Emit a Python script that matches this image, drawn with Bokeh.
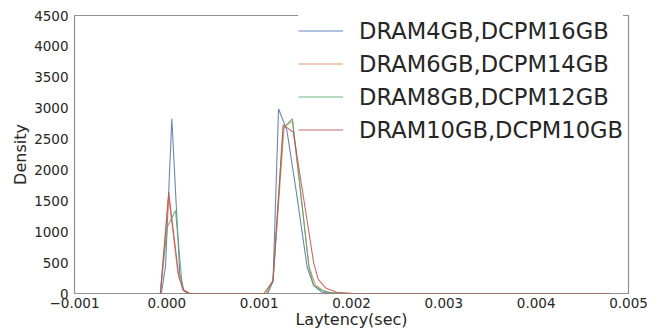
from bokeh.plotting import figure
from bokeh.models import FixedTicker, Legend, LegendItem
from bokeh.embed import file_html
from bokeh.resources import INLINE

series_names = ["DRAM4GB,DCPM16GB", "DRAM6GB,DCPM14GB", "DRAM8GB,DCPM12GB", "DRAM10GB,DCPM10GB"]
series_colors = ["#4C72B0", "#DD8452", "#55A868", "#C44E52"]

blue_x = [-0.00006, -0.000014, 0.000054, 0.00014, 0.000185, 0.00024, 0.0004, 0.0010, 0.00109, 0.00115, 0.00121, 0.00130, 0.00140, 0.00152, 0.00159, 0.00168, 0.0018, 0.0025, 0.0048]
blue_y = [0, 440, 2830, 320, 50, 5, 0, 0, 0, 195, 2990, 2640, 1670, 425, 130, 20, 3, 0, 0]

orange_x = [-0.00007, 0.00002, 0.00012, 0.00018, 0.00025, 0.0004, 0.0010, 0.00107, 0.00115, 0.00127, 0.00136, 0.00154, 0.00161, 0.00170, 0.0018, 0.0025, 0.0048]
orange_y = [0, 1560, 330, 55, 3, 0, 0, 0, 210, 2700, 2790, 430, 140, 35, 5, 0, 0]

green_x = [-0.00007, 0.000004, 0.000094, 0.00017, 0.00022, 0.0004, 0.0010, 0.00109, 0.00115, 0.00126, 0.00136, 0.00154, 0.00159, 0.00167, 0.00176, 0.0019, 0.0025, 0.0048]
green_y = [0, 1075, 1345, 75, 5, 0, 0, 0, 210, 2670, 2830, 425, 130, 60, 20, 3, 0, 0]

red_x = [-0.00007, 0.00002, 0.00013, 0.000178, 0.00024, 0.0004, 0.0010, 0.00105, 0.00115, 0.00126, 0.00137, 0.00159, 0.00164, 0.00172, 0.00184, 0.0020, 0.0025, 0.0048]
red_y = [0, 1640, 275, 50, 3, 0, 0, 0, 200, 2730, 2610, 500, 230, 90, 20, 5, 0, 0]

x_ticks = [-0.001, 0.0, 0.001, 0.002, 0.003, 0.004, 0.005]
x_tick_labels = ["\u22120.001", "0.000", "0.001", "0.002", "0.003", "0.004", "0.005"]
y_ticks = [0, 500, 1000, 1500, 2000, 2500, 3000, 3500, 4000, 4500]

p = figure(width=664, height=331, output_backend="svg", toolbar_location=None,
           x_range=(-0.001, 0.005), y_range=(0, 4500),
           min_border_left=74, min_border_right=36, min_border_top=15, min_border_bottom=38)
p.background_fill_color = "white"
p.border_fill_color = "white"
p.outline_line_color = "#909090"
p.outline_line_width = 1.2
p.xgrid.visible = False
p.ygrid.visible = False

xs = [blue_x, orange_x, green_x, red_x]
ys = [blue_y, orange_y, green_y, red_y]
renderers = []
for x, y, c in zip(xs, ys, series_colors):
    r = p.line(x, y, line_color=c, line_width=1.1, line_alpha=0.85)
    renderers.append(r)

for ax in (p.xaxis[0], p.yaxis[0]):
    ax.axis_line_color = None
    ax.major_tick_line_color = None
    ax.minor_tick_line_color = None
    ax.major_tick_out = 0
    ax.major_tick_in = 0
    ax.minor_tick_out = 0
    ax.minor_tick_in = 0
    ax.major_label_text_font = "DejaVu Sans"
    ax.major_label_text_font_size = "13.5px"
    ax.major_label_text_color = "#262626"
    ax.axis_label_text_font = "DejaVu Sans"
    ax.axis_label_text_font_size = "16px"
    ax.axis_label_text_font_style = "normal"
    ax.axis_label_text_color = "#262626"

p.xaxis.major_label_standoff = 4
p.yaxis.major_label_standoff = 6
p.xaxis.ticker = FixedTicker(ticks=x_ticks)
p.xaxis.major_label_overrides = {t: l for t, l in zip(x_ticks, x_tick_labels)}
p.yaxis.ticker = FixedTicker(ticks=y_ticks)
p.xaxis.axis_label = "Laytency(sec)"
p.xaxis.axis_label_standoff = -1
p.yaxis.axis_label = "Density"
p.yaxis.axis_label_standoff = 1

legend = Legend(items=[LegendItem(label=n, renderers=[r]) for n, r in zip(series_names, renderers)],
                location=(224, 147), padding=0, margin=0, spacing=0,
                glyph_width=45, glyph_height=33, label_height=33, label_standoff=16,
                label_text_font="DejaVu Sans", label_text_font_size="22.6px",
                label_text_color="#262626", border_line_color=None,
                background_fill_color="white", background_fill_alpha=1.0)
p.add_layout(legend)

open("out.html", "w").write(file_html(p, INLINE))
